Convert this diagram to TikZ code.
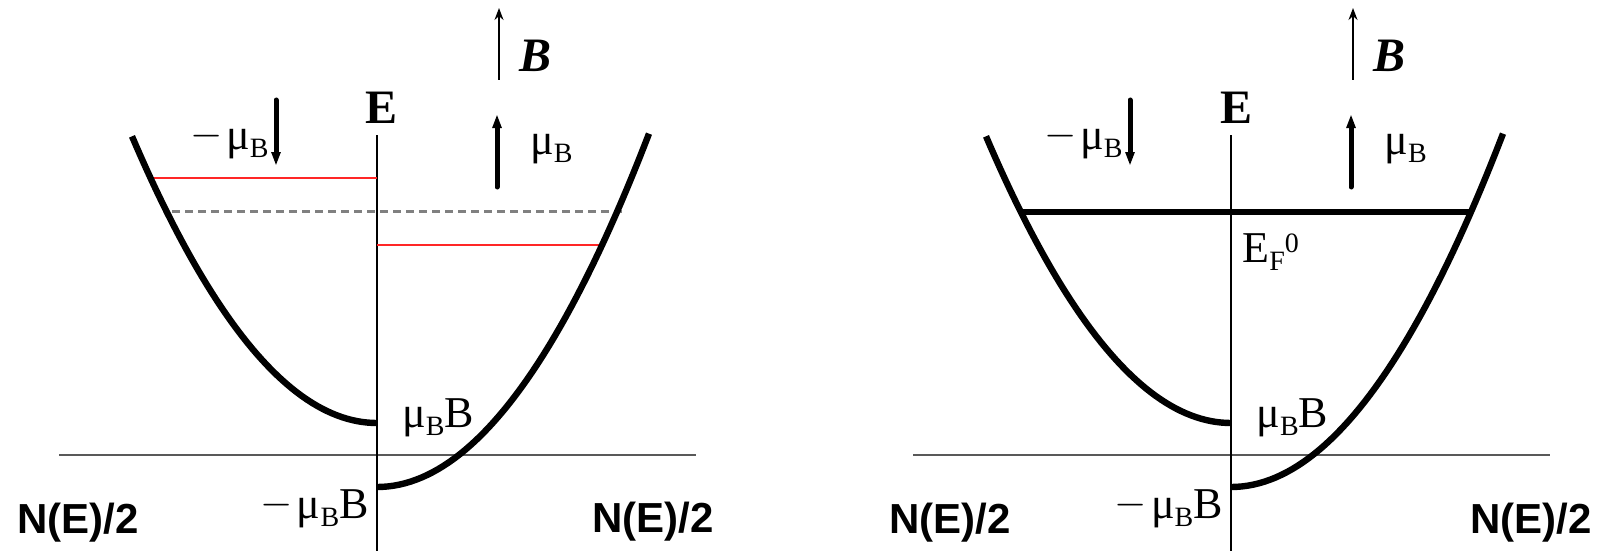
\documentclass[tikz,border=0pt]{standalone}
\usepackage{fontspec}
\setmainfont{Liberation Serif}
\newfontfamily\sanslabel{Liberation Sans}
\usetikzlibrary{arrows.meta}
\newcommand{\lowidx}[1]{\raisebox{-4pt}{\fontsize{14}{14}\selectfont #1}}
\newcommand{\highidx}[1]{\raisebox{5pt}{\fontsize{14}{14}\selectfont #1}}
\newcommand{\muB}{μ\lowidx{B}}
\newcommand{\negsign}{\raisebox{1.5pt}{$-$}\kern2pt}

\begin{document}
\begin{tikzpicture}[
  x=0.5pt, y=-0.5pt,
  band/.style={line width=3.2pt},
  eaxis/.style={line width=1.2pt},
  naxis/.style={line width=0.6pt, black!65},
  splitlevel/.style={line width=1pt, red!85!white},
  meanlevel/.style={line width=1.5pt, gray, dash pattern=on 4pt off 2.5pt},
  fermilevel/.style={line width=3pt},
  spinarrow/.style={line width=2.5pt, line cap=round, -{Triangle[length=10pt,width=3.6pt]}},
  fieldarrow/.style={line width=0.7pt, -{Stealth[length=6pt,width=4.5pt]}},
  bigletter/.style={font=\fontsize{24}{28}\selectfont, inner sep=0pt},
  mulabel/.style={font=\fontsize{22}{26}\selectfont, inner sep=0pt},
  axlabel/.style={font=\fontsize{21}{24}\selectfont\sanslabel\bfseries, inner sep=0pt},
]
\useasboundingbox (0,0) rectangle (1599,551);

% left panel: split levels
\draw[naxis] (59,455) -- (696,455);
\draw[eaxis] (377,135) -- (377,551);
\draw[splitlevel] (150,178) -- (377,178);
\draw[splitlevel] (377,245) -- (602,245);
\draw[meanlevel] (172,211) -- (622,211);
\draw[band] plot[domain=0:245, samples=50] ({377-\x},{423-0.00477*\x*\x});
\draw[band] plot[domain=0:272, samples=50] ({377+\x},{487-0.00477*\x*\x});

\coordinate (l-field-bot) at (499,80);
\coordinate (l-field-top) at (499,8);
\coordinate (l-dn-top) at (276,100);
\coordinate (l-dn-bot) at (276,172);
\coordinate (l-up-bot) at (497,187);
\coordinate (l-up-top) at (497,108);
\draw[fieldarrow] (l-field-bot) -- (l-field-top);
\draw[spinarrow] (l-dn-top) -- (l-dn-bot);
\draw[spinarrow] (l-up-bot) -- (l-up-top);

\node[bigletter, anchor=base west] (l-b) at (519,72) {\textbf{\textit{B}}};
\node[bigletter, anchor=base] (l-e) at (382,123) {\textbf{E}};
\node[mulabel, anchor=base east] (l-mdn) at (269,149) {\negsign\muB};
\node[mulabel, anchor=base west] (l-mup) at (530,155) {\muB};
\node[mulabel, anchor=base west] (l-zup) at (402,427) {\muB B};
\node[mulabel, anchor=base east] (l-zdn) at (369,518) {\negsign\muB B};
\node[axlabel, anchor=base west] (l-nl) at (17,533) {N(E)/2};
\node[axlabel, anchor=base west] (l-nr) at (592,532) {N(E)/2};

% right panel: common Fermi level
\draw[naxis] (913,455) -- (1550,455);
\draw[eaxis] (1231,135) -- (1231,551);
\draw[fermilevel] (1021,212) -- (1471,212);
\draw[band] plot[domain=0:245, samples=50] ({1231-\x},{423-0.00477*\x*\x});
\draw[band] plot[domain=0:272, samples=50] ({1231+\x},{487-0.00477*\x*\x});

\coordinate (r-field-bot) at (1353,80);
\coordinate (r-field-top) at (1353,8);
\coordinate (r-dn-top) at (1130,100);
\coordinate (r-dn-bot) at (1130,172);
\coordinate (r-up-bot) at (1351,187);
\coordinate (r-up-top) at (1351,108);
\draw[fieldarrow] (r-field-bot) -- (r-field-top);
\draw[spinarrow] (r-dn-top) -- (r-dn-bot);
\draw[spinarrow] (r-up-bot) -- (r-up-top);

\node[bigletter, anchor=base west] (r-b) at (1373,72) {\textbf{\textit{B}}};
\node[bigletter, anchor=base] (r-e) at (1236,123) {\textbf{E}};
\node[mulabel, anchor=base east] (r-mdn) at (1123,149) {\negsign\muB};
\node[mulabel, anchor=base west] (r-mup) at (1384,155) {\muB};
\node[mulabel, anchor=base west] (r-ef) at (1242,262) {E\lowidx{F}\highidx{0}};
\node[mulabel, anchor=base west] (r-zup) at (1256,427) {\muB B};
\node[mulabel, anchor=base east] (r-zdn) at (1223,518) {\negsign\muB B};
\node[axlabel, anchor=base west] (r-nl) at (889,533) {N(E)/2};
\node[axlabel, anchor=base west] (r-nr) at (1470,533) {N(E)/2};

\end{tikzpicture}
\end{document}
